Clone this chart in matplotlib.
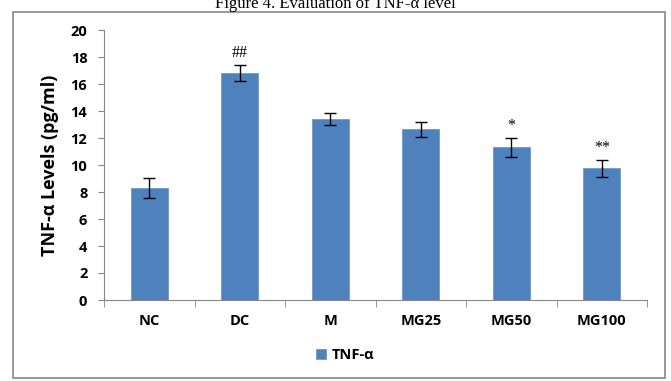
import matplotlib
matplotlib.use("Agg")
import matplotlib.pyplot as plt
from matplotlib.patches import Rectangle

categories = ["NC", "DC", "M", "MG25", "MG50", "MG100"]
values = [8.27, 16.8, 13.4, 12.65, 11.3, 9.75]
errors = [0.75, 0.6, 0.45, 0.55, 0.7, 0.65]
marks = ["", "##", "", "", "*", "**"]
yticks = [0, 2, 4, 6, 8, 10, 12, 14, 16, 18, 20]

fig = plt.figure(figsize=(6.71, 3.81), dpi=100)
fig.patches.append(Rectangle((13/671, 1-378/381), (665-13)/671, (378-12)/381,
                             transform=fig.transFigure, fill=False,
                             edgecolor="#868686", linewidth=1.2))
fig.text(0.5, 1-4/381, "Figure 4. Evaluation of TNF-α level", ha="center", va="center",
         fontsize=12, family="Liberation Serif")

ax = fig.add_axes([104/671, 1-300/381, (647-104)/671, 270/381])
x = list(range(len(categories)))
ax.bar(x, values, width=0.405, color="#4F81BD", edgecolor="#6E98CC", linewidth=0.6,
       yerr=errors, error_kw=dict(ecolor="black", elinewidth=1, capsize=4, capthick=1),
       label="TNF-α", zorder=2)
for xi, v, e, m in zip(x, values, errors, marks):
    if m:
        ax.text(xi, v + e + 0.3, m, ha="center", va="bottom", fontsize=11.5,
                family="Liberation Serif")

ax.set_xlim(-0.5, len(categories) - 0.5)
ax.set_ylim(0, 20)
ax.set_yticks(yticks)
ax.set_yticklabels([str(t) for t in yticks], fontsize=10.5, fontweight="bold", family="Open Sans")
ax.set_xticks(x)
ax.set_xticklabels(categories, fontsize=10.5, fontweight="bold", family="Open Sans")
ax.set_xticks([i + 0.5 for i in range(-1, len(categories))], minor=True)
ax.tick_params(axis="x", which="major", length=0, pad=10)
ax.tick_params(axis="x", which="minor", length=5, color="#868686", direction="out")
ax.tick_params(axis="y", length=4, color="#868686", direction="out", pad=8)
for s in ["top", "right"]:
    ax.spines[s].set_visible(False)
for s in ["left", "bottom"]:
    ax.spines[s].set_color("#868686")
ax.set_ylabel("TNF-α Levels (pg/ml)", fontsize=13, fontweight="bold", family="Open Sans",
              labelpad=8)

fig.legend(loc="center", bbox_to_anchor=(345/671, 1-355/381), frameon=False,
           prop=dict(family="Open Sans", weight="bold", size=10.5),
           handlelength=0.7, handleheight=0.7, handletextpad=0.4)

fig.savefig("out.png", dpi=100)
